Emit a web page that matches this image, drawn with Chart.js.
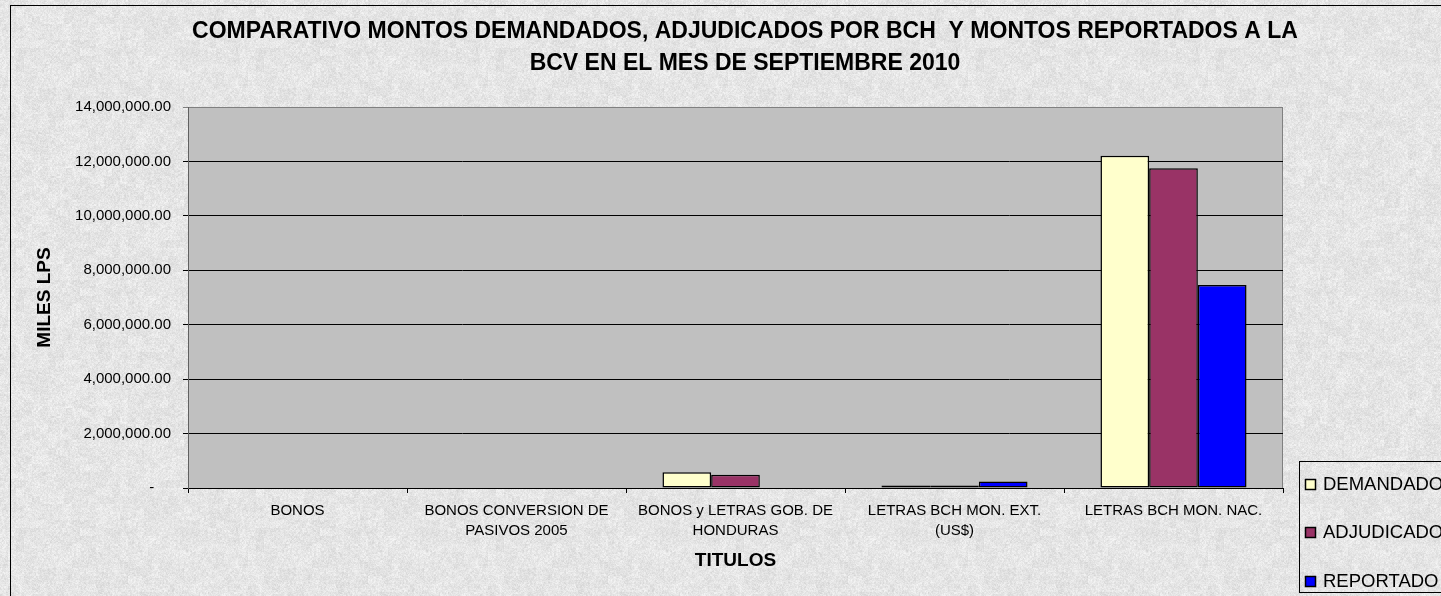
<!DOCTYPE html>
<html><head><meta charset="utf-8">
<script src="https://cdn.jsdelivr.net/npm/chart.js@4.4.1/dist/chart.umd.min.js"></script>
<style>
html,body{margin:0;padding:0;overflow:hidden;background:#e4e4e4;}
#wrap{position:relative;width:1441px;height:596px;overflow:hidden;}
canvas{display:block;}
</style></head><body>
<div id="wrap"><canvas id="c" width="1490" height="596"></canvas></div>
<script>
const categories = [["BONOS"], ["BONOS CONVERSION DE", "PASIVOS 2005"], ["BONOS y LETRAS GOB. DE", "HONDURAS"], ["LETRAS BCH MON. EXT.", "(US$)"], ["LETRAS BCH MON. NAC."]];
const seriesNames = ["DEMANDADO", "ADJUDICADO", "REPORTADO"];
const demandado = [0, 0, 575000, 90000, 12210000];
const adjudicado = [0, 0, 490000, 90000, 11750000];
const reportado = [0, 0, 0, 240000, 7460000];
const yMin = 0, yMax = 14000000, yStep = 2000000;
const titleLines = ["COMPARATIVO MONTOS DEMANDADOS, ADJUDICADOS POR BCH  Y MONTOS REPORTADOS A LA", "BCV EN EL MES DE SEPTIEMBRE 2010"];
const yTitle = "MILES LPS";
const xTitle = "TITULOS";

const FONT = '"Liberation Sans", Arial, sans-serif';

// deterministic granite-like texture for the chart background
function hash(x, y) {
  let h = (Math.imul(x, 374761393) + Math.imul(y, 668265263)) | 0;
  h = Math.imul(h ^ (h >>> 13), 1274126177);
  h ^= h >>> 16;
  return (h >>> 0) / 4294967295;
}
function makeTexture() {
  const N = 240;
  const c = document.createElement('canvas');
  c.width = N; c.height = N;
  const g = c.getContext('2d');
  const img = g.createImageData(N, N);
  for (let y = 0; y < N; y++) {
    for (let x = 0; x < N; x++) {
      const v = 229 + (hash(x, y) - 0.5) * 16 + (hash(x >> 1, (y >> 1) ^ 77) - 0.5) * 12 + (hash(x >> 3, (y >> 3) + 991) - 0.5) * 8;
      const gv = Math.max(0, Math.min(255, Math.round(v)));
      const i = (y * N + x) * 4;
      img.data[i] = gv; img.data[i + 1] = gv; img.data[i + 2] = gv; img.data[i + 3] = 255;
    }
  }
  g.putImageData(img, 0, 0);
  return c;
}
const texture = makeTexture();

const bgPlugin = {
  id: 'bgPlugin',
  beforeDraw(chart) {
    const ctx = chart.ctx, a = chart.chartArea;
    ctx.save();
    ctx.fillStyle = ctx.createPattern(texture, 'repeat');
    ctx.fillRect(0, 0, chart.width, chart.height);
    ctx.strokeStyle = '#000';
    ctx.lineWidth = 1;
    ctx.strokeRect(10.5, 5.5, 1469, 640);
    ctx.fillStyle = '#c0c0c0';
    ctx.fillRect(a.left, a.top, a.right - a.left, a.bottom - a.top);
    ctx.strokeStyle = '#808080';
    ctx.strokeRect(a.left + 0.5, a.top + 0.5, a.right - a.left - 1, a.bottom - a.top);
    ctx.restore();
  }
};

const boxLegend = {
  id: 'boxLegend',
  afterDraw(chart) {
    const ctx = chart.ctx;
    ctx.save();
    ctx.strokeStyle = '#000';
    ctx.lineWidth = 1;
    ctx.strokeRect(1299.5, 461.5, 220, 131);
    ctx.font = '18.5px ' + FONT;
    ctx.textBaseline = 'middle';
    chart.data.datasets.forEach((ds, i) => {
      const y = Math.round(483.5 + i * 48.5);
      ctx.fillStyle = ds.backgroundColor;
      ctx.fillRect(1305, y - 5, 11, 11);
      ctx.strokeStyle = '#000';
      ctx.lineWidth = 1.5;
      ctx.strokeRect(1305.5, y - 4.5, 10, 10);
      ctx.fillStyle = '#000';
      ctx.fillText(ds.label, 1323, y + 1);
    });
    ctx.restore();
  }
};

const colors = ['#FFFFCC', '#993366', '#0000FF'];
const values = [demandado, adjudicado, reportado];

new Chart(document.getElementById('c'), {
  type: 'bar',
  data: {
    labels: categories,
    datasets: seriesNames.map((n, i) => ({
      label: n,
      data: values[i],
      backgroundColor: colors[i],
      borderColor: '#000',
      borderWidth: 1.5,
      borderSkipped: false,
      categoryPercentage: 0.667,
      barPercentage: 1.0,
      yAxisID: 'y'
    }))
  },
  options: {
    responsive: false,
    devicePixelRatio: 1,
    animation: false,
    layout: { padding: 0 },
    plugins: {
      legend: { display: false },
      tooltip: { enabled: false },
      title: {
        display: true,
        text: titleLines,
        color: '#000',
        font: { family: FONT, size: 23, weight: 'bold', lineHeight: 32.5 / 23 },
        padding: { top: 15.25, bottom: 26.75 }
      }
    },
    scales: {
      x: {
        type: 'category',
        offset: true,
        grid: { offset: true, drawOnChartArea: false, drawTicks: true, tickLength: 5, color: '#000' },
        border: { display: true, color: '#000', width: 1 },
        ticks: { color: '#000', font: { family: FONT, size: 15, lineHeight: 20 / 15 }, padding: 8, maxRotation: 0, autoSkip: false },
        title: { display: true, text: xTitle, color: '#000', font: { family: FONT, size: 19, weight: 'bold' }, padding: { top: 0, bottom: 23.6 } },
        afterFit(s) { s.height = 108; }
      },
      y: {
        type: 'linear',
        position: 'left',
        min: yMin, max: yMax,
        grid: {
          color: (c) => (c.tick && c.tick.value === yMax) ? '#808080' : '#000',
          lineWidth: 1, tickLength: 5, drawTicks: true
        },
        border: { display: true, color: '#606060' },
        ticks: {
          stepSize: yStep,
          color: '#000',
          padding: 12,
          font: { family: FONT, size: 15 },
          callback: (v) => v === 0 ? '-    ' : Number(v).toLocaleString('en-US', { minimumFractionDigits: 2, maximumFractionDigits: 2 })
        },
        title: { display: true, text: yTitle, color: '#000', font: { family: FONT, size: 19, weight: 'bold' }, padding: { top: 33.6, bottom: 0 } },
        afterFit(s) { s.width = 188; }
      },
      y2: {
        type: 'linear',
        position: 'right',
        display: true,
        grid: { display: false },
        border: { display: false },
        ticks: { display: false },
        afterFit(s) { s.width = 207; }
      }
    }
  },
  plugins: [bgPlugin, boxLegend]
});
</script>
</body></html>
